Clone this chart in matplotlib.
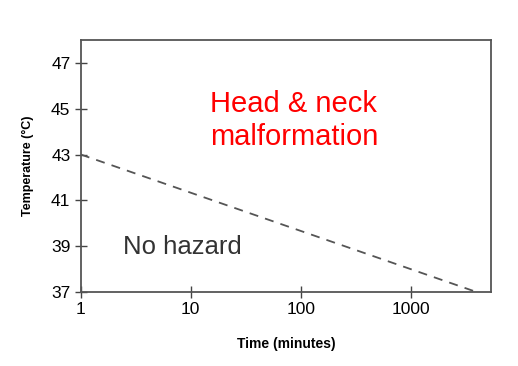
import matplotlib
matplotlib.use("Agg")
from matplotlib import pyplot as plt
from matplotlib.ticker import FixedLocator, NullLocator

plt.rcParams['font.family'] = ['Liberation Sans', 'DejaVu Sans']

# threshold line: time (minutes) vs temperature (C)
time_min = [1, 4000]
temp_c = [43, 37]

x_ticks = [1, 10, 100, 1000]
x_labels = ['1', '10', '100', '1000']
y_ticks = [37, 39, 41, 43, 45, 47]

fig = plt.figure(figsize=(5.18, 3.66), dpi=100)
ax = fig.add_axes([0.156, 0.202, 0.792, 0.689])

ax.plot(time_min, temp_c, linestyle=(0, (5, 4)), color='#555555', linewidth=1.3)

ax.set_xscale('log')
ax.set_xlim(1, 5400)
ax.set_ylim(37, 48)
ax.xaxis.set_major_locator(FixedLocator(x_ticks))
ax.xaxis.set_minor_locator(NullLocator())
ax.set_xticklabels(x_labels)
ax.set_yticks(y_ticks)
ax.tick_params(direction='inout', length=8, width=1, color='#444444',
               labelsize=12.5)

for s in ax.spines.values():
    s.set_color('#555555')
    s.set_linewidth(1.3)

ax.set_xlabel('Time (minutes)', fontsize=10, fontweight='bold', labelpad=14)
ax.set_ylabel('Temperature (°C)', fontsize=9, fontweight='bold', labelpad=12)

ax.text(0.315, 0.714, 'Head & neck', transform=ax.transAxes,
        color='#ff0000', fontsize=21, ha='left', va='baseline')
ax.text(0.315, 0.583, 'malformation', transform=ax.transAxes,
        color='#ff0000', fontsize=21, ha='left', va='baseline')
ax.text(0.103, 0.18, 'No hazard', transform=ax.transAxes, color='#333333',
        fontsize=18.5, ha='left', va='center')

fig.savefig('out.png', dpi=100)
